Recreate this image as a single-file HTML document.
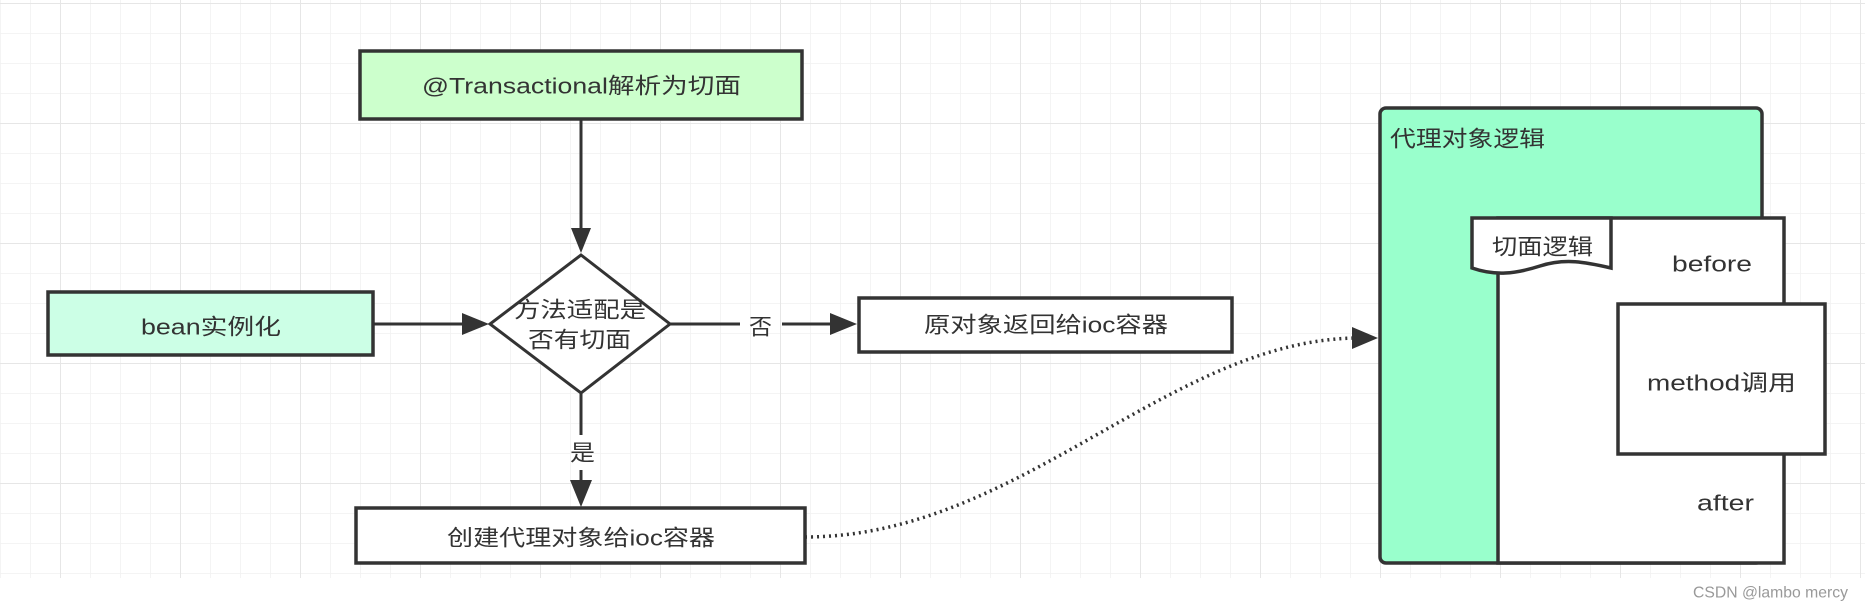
<!DOCTYPE html>
<html><head><meta charset="utf-8"><style>
html,body{margin:0;padding:0;background:#fff;}
svg{display:block;}
text{font-family:"Liberation Sans","Noto Sans CJK SC",sans-serif;fill:#333;}
</style></head><body>
<svg width="1865" height="611" viewBox="0 0 1865 611" xmlns="http://www.w3.org/2000/svg">
<defs>
<pattern id="g" x="0" y="3" width="30" height="30" patternUnits="userSpaceOnUse">
<path d="M0 0H30M0 0V30" stroke="#f1f1f1" stroke-width="1.5" fill="none"/>
</pattern>
<pattern id="G" x="60" y="3" width="120" height="120" patternUnits="userSpaceOnUse">
<path d="M0 0H120M0 0V120" stroke="#e6e6e6" stroke-width="2" fill="none"/>
</pattern>
<marker id="a" markerWidth="10" markerHeight="10" refX="9" refY="5" orient="auto" markerUnits="userSpaceOnUse" viewBox="0 0 10 10">
<path d="M0 0L10 5L0 10Z" fill="#333"/>
</marker>
</defs>
<rect x="0" y="0" width="1865" height="578" fill="url(#g)"/>
<rect x="0" y="0" width="1865" height="578" fill="url(#G)"/>

<!-- connectors -->
<g stroke="#333" stroke-width="3" fill="none">
<line x1="581" y1="119" x2="581" y2="234"/>
<path d="M581 253L571 228L591 228Z" fill="#333" stroke="none"/>
<line x1="373" y1="324" x2="470" y2="324"/>
<path d="M489 324L462 313L462 335Z" fill="#333" stroke="none"/>
<line x1="670" y1="324" x2="740" y2="324"/>
<line x1="782" y1="324" x2="838" y2="324"/>
<path d="M857 324L830 313L830 335Z" fill="#333" stroke="none"/>
<line x1="581" y1="393" x2="581" y2="435"/>
<line x1="581" y1="470" x2="581" y2="490"/>
<path d="M581 507L570 480L592 480Z" fill="#333" stroke="none"/>
<path d="M805 537C1020 537 1170 338 1360 338" stroke-dasharray="2 4" stroke-width="3.5"/>
<path d="M1378 338L1352 327L1352 349Z" fill="#333" stroke="none"/>
</g>

<!-- shapes -->
<g stroke="#333" stroke-width="3.5">
<rect x="360" y="51" width="442" height="68" fill="#ccffcc"/>
<rect x="48" y="292" width="325" height="63" fill="#ccffe6"/>
<path d="M581 255L670 324L581 393L490 324Z" fill="#fff" stroke-width="3"/>
<rect x="859" y="298" width="373" height="54" fill="#fff"/>
<rect x="356" y="508" width="449" height="55" fill="#fff"/>
<rect x="1380" y="108" width="382" height="455" rx="6" fill="#99ffcc"/>
<rect x="1498" y="218" width="286" height="345" fill="#fff"/>
<path d="M1472 218H1611V268C1585 262 1565 258 1540 266C1515 274 1495 276 1472 268Z" fill="#fff"/>
<rect x="1618" y="304" width="207" height="150" fill="#fff"/>
</g>

<!-- labels -->
<g font-size="22" dominant-baseline="central">
<text x="422" y="86" textLength="319" lengthAdjust="spacingAndGlyphs">@Transactional解析为切面</text>
<text x="141" y="327" textLength="140" lengthAdjust="spacingAndGlyphs">bean实例化</text>
<text x="514" y="310" textLength="132" lengthAdjust="spacingAndGlyphs">方法适配是</text>
<text x="528" y="340" textLength="103" lengthAdjust="spacingAndGlyphs">否有切面</text>
<text x="749" y="327" textLength="23" lengthAdjust="spacingAndGlyphs">否</text>
<text x="924" y="325" textLength="244" lengthAdjust="spacingAndGlyphs">原对象返回给ioc容器</text>
<text x="570" y="453" textLength="25" lengthAdjust="spacingAndGlyphs">是</text>
<text x="447" y="538" textLength="268" lengthAdjust="spacingAndGlyphs">创建代理对象给ioc容器</text>
<text x="1390" y="139" textLength="155" lengthAdjust="spacingAndGlyphs">代理对象逻辑</text>
<text x="1492" y="247" textLength="101" lengthAdjust="spacingAndGlyphs">切面逻辑</text>
<text x="1672" y="264" textLength="80" lengthAdjust="spacingAndGlyphs">before</text>
<text x="1647" y="383" textLength="149" lengthAdjust="spacingAndGlyphs">method调用</text>
<text x="1697" y="503" textLength="57" lengthAdjust="spacingAndGlyphs">after</text>
</g>
<text x="1693" y="593" font-size="16" dominant-baseline="central" style="fill:#999" textLength="155" lengthAdjust="spacingAndGlyphs">CSDN @lambo mercy</text>
</svg>
</body></html>
